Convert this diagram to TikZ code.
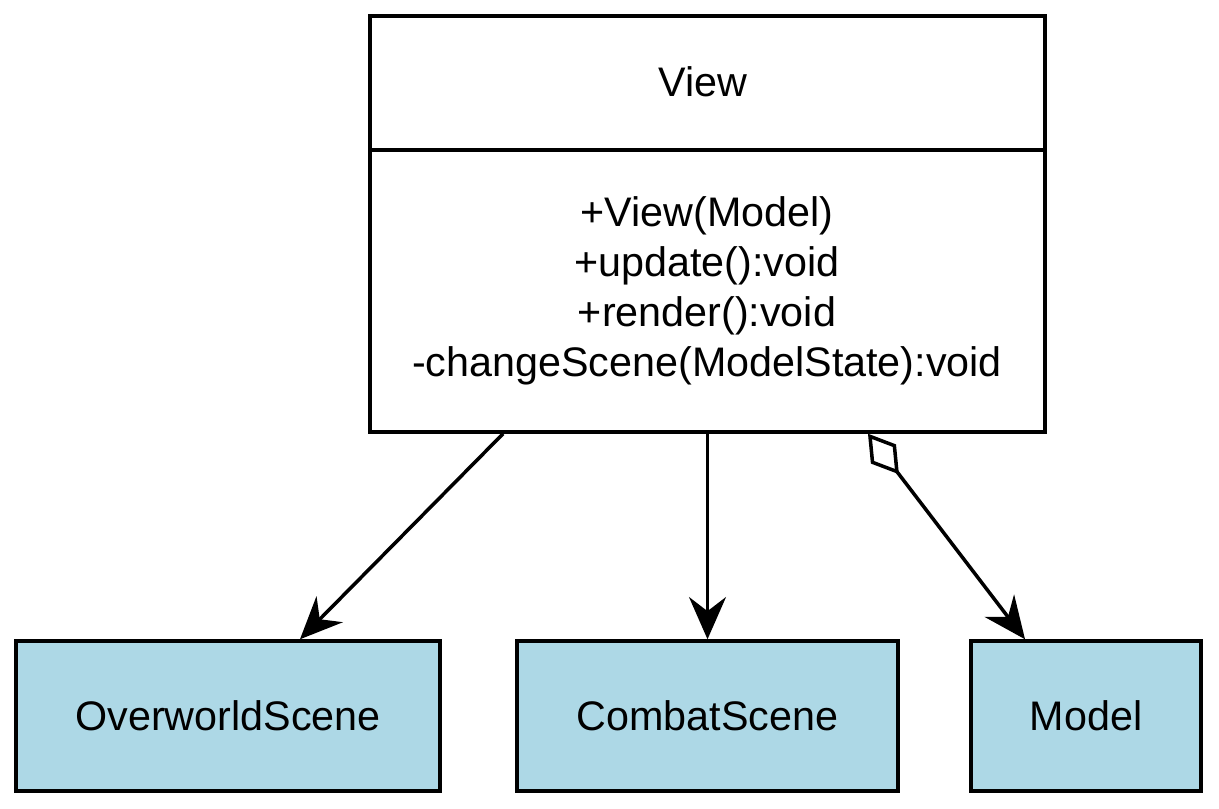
\documentclass[tikz,border=0pt]{standalone}
\usepackage{fontspec}
\setmainfont{Liberation Sans}
\usetikzlibrary{arrows.meta}
\definecolor{lightblue}{HTML}{ADD8E6}

\begin{document}
\begin{tikzpicture}[x=0.02cm, y=-0.02cm, line width=2pt,
    every node/.style={font=\fontsize{23.5}{28.5}\selectfont},
    classbox/.style={draw, rectangle, inner sep=0pt},
    scenebox/.style={classbox, fill=lightblue, minimum height=3cm},
    uses/.style={-{Stealth[length=24pt, width=21pt, inset=8pt]}},
    owns/.style={{Diamond[open, length=29pt, width=18pt]}-{Stealth[length=24pt, width=21pt, inset=8pt]}}]
  \useasboundingbox (0,0) rectangle (1219,808);
  % the View class, name on top, operations below
  \node[classbox, minimum width=13.5cm, minimum height=8.32cm] (view) at (707.5,224) {};
  \node (viewname) at (703,82) {View};
  \node[align=center] (viewops) at (707,291) {+View(Model)\\+update():void\\+render():void\\-changeScene(ModelState):void};
  \draw (view.west |- 0,150) -- (view.east |- 0,150);
  % the classes it points to
  \node[scenebox, minimum width=8.48cm] (overworld) at (228,716) {OverworldScene};
  \node[scenebox, minimum width=7.62cm] (combat) at (707.5,716) {CombatScene};
  \node[scenebox, minimum width=4.6cm] (model) at (1086,716) {Model};
  \draw[uses] ([xshift=-4.09cm]view.south) -- ([xshift=1.44cm]overworld.north);
  \draw[uses] (view.south) -- (combat.north);
  \draw[owns] ([xshift=3.21cm]view.south) -- ([xshift=-1.22cm]model.north);
\end{tikzpicture}
\end{document}
